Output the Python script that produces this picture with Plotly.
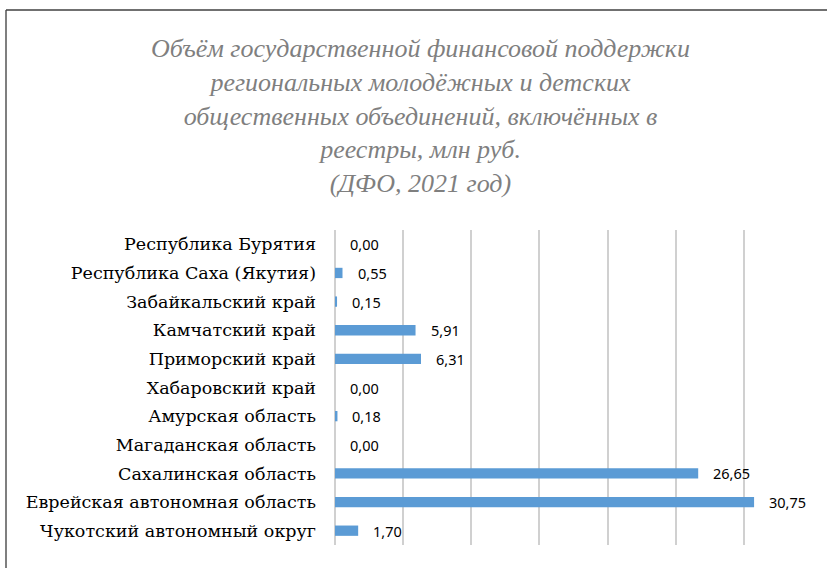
import plotly.graph_objects as go

regions = [
    "Республика Бурятия",
    "Республика Саха (Якутия)",
    "Забайкальский край",
    "Камчатский край",
    "Приморский край",
    "Хабаровский край",
    "Амурская область",
    "Магаданская область",
    "Сахалинская область",
    "Еврейская автономная область",
    "Чукотский автономный округ",
]
values = [0.00, 0.55, 0.15, 5.91, 6.31, 0.00, 0.18, 0.00, 26.65, 30.75, 1.70]
labels = [f"{v:.2f}".replace(".", ",") for v in values]

W, H = 827, 568
L, R, T, B = 335, 15, 230, 23
pw, ph = W - L - R, H - T - B

SERIF = "Times New Roman, Liberation Serif, DejaVu Serif, serif"

fig = go.Figure(go.Bar(
    x=values, y=regions, orientation="h",
    marker=dict(color="#5B9BD5", line=dict(width=0)),
    width=0.36, hoverinfo="skip",
))

for r, v, t in zip(regions, values, labels):
    fig.add_annotation(x=v, y=r, text=t, showarrow=False, xanchor="left",
                       xshift=13, font=dict(family="Noto Sans, Liberation Sans, sans-serif", size=14.5, color="#000000"))

title = ("Объём государственной финансовой поддержки<br>"
         "региональных молодёжных и детских<br>"
         "общественных объединений, включённых в<br>"
         "реестры, млн руб.<br>"
         "(ДФО, 2021 год)")

fig.add_annotation(x=(420 - L) / pw, y=(H - B - 32) / ph, xref="paper", yref="paper",
                   text=title, showarrow=False, xanchor="center", yanchor="top",
                   font=dict(family=SERIF, size=26, color="#7f7f7f", style="italic"),
                   align="center")

# chart frame (left and top edges)
x0 = (6 - L) / pw
y0 = (H - B - 10) / ph
fig.add_shape(type="line", xref="paper", yref="paper", x0=x0, x1=x0, y0=-1, y1=y0,
              line=dict(color="#7f7f7f", width=2))
fig.add_shape(type="line", xref="paper", yref="paper", x0=x0, x1=2, y0=y0, y1=y0,
              line=dict(color="#404040", width=1.5))

fig.update_layout(
    width=W, height=H,
    margin=dict(l=L, r=R, t=T, b=B),
    paper_bgcolor="white", plot_bgcolor="white",
    showlegend=False,
    xaxis=dict(range=[0, 35], dtick=5, showgrid=True, gridcolor="#d0d0d0", gridwidth=1.5,
               showticklabels=False, zeroline=True, zerolinecolor="#d0d0d0", zerolinewidth=1.5,
               showline=False, fixedrange=True),
    yaxis=dict(autorange="reversed", showgrid=False, ticks="", ticklabelstandoff=18,
               tickfont=dict(family="DejaVu Serif, serif", size=17.5, color="#000000"),
               showline=False, fixedrange=True),
)
fig.write_html("out.html", config={"displayModeBar": False},
               post_script="document.body.style.margin='0';document.body.style.overflow='hidden';")
